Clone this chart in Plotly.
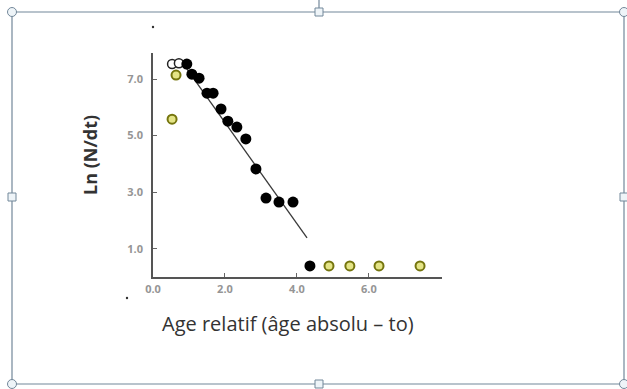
import plotly.graph_objects as go

# --- data -------------------------------------------------------------
# aged fish used for the catch-curve regression (filled)
fit_age = [0.94, 1.08, 1.28, 1.50, 1.67, 1.89, 2.08, 2.33, 2.58, 2.86, 3.14, 3.50, 3.89, 4.36]
fit_ln = [7.53, 7.17, 7.03, 6.50, 6.50, 5.94, 5.51, 5.30, 4.88, 3.82, 2.79, 2.65, 2.65, 0.39]

# not fully recruited ages (open)
open_age = [0.53, 0.72]
open_ln = [7.53, 7.56]

# excluded ages (yellow)
excl_age = [0.64, 0.53, 4.89, 5.47, 6.28, 7.42]
excl_ln = [7.14, 5.58, 0.39, 0.39, 0.39, 0.39]

# regression line end points
line_age = [0.92, 4.28]
line_ln = [7.39, 1.38]

x_ticks = [0, 2, 4, 6]
x_tick_text = ["0.0", "2.0", "4.0", "6.0"]
y_ticks = [1, 3, 5, 7]
y_tick_text = ["1.0", "3.0", "5.0", "7.0"]

# --- layout geometry (pixels) -----------------------------------------
W, H = 627, 389
L, R, T, B = 153, 442, 53, 277


def px(x):
    return (x - L) / (R - L)


def py(y):
    return (B - y) / (B - T)


fig = go.Figure()

fig.add_trace(go.Scatter(
    x=line_age, y=line_ln, mode="lines",
    line=dict(color="#3a3a3a", width=1.3), hoverinfo="skip", showlegend=False))

fig.add_trace(go.Scatter(
    x=excl_age, y=excl_ln, mode="markers",
    marker=dict(symbol="circle", size=9, color="#e4e486",
                line=dict(color="#75750e", width=2)),
    showlegend=False))

fig.add_trace(go.Scatter(
    x=open_age, y=open_ln, mode="markers",
    marker=dict(symbol="circle", size=9, color="white",
                line=dict(color="#222", width=1.5)),
    showlegend=False))

fig.add_trace(go.Scatter(
    x=fit_age, y=fit_ln, mode="markers",
    marker=dict(symbol="circle", size=11, color="black",
                line=dict(color="black", width=0)),
    showlegend=False))

tick_font = dict(family="Open Sans", size=11, color="#959595", weight="bold")

fig.update_xaxes(
    range=[0, 8.03], tickvals=x_ticks, ticktext=x_tick_text,
    showgrid=False, zeroline=False, showline=True, linecolor="#555",
    linewidth=1.5, ticks="inside", ticklen=4, tickcolor="#666",
    tickfont=tick_font, ticklabelstandoff=1)
fig.update_yaxes(
    range=[0, 7.92], tickvals=y_ticks, ticktext=y_tick_text,
    showgrid=False, zeroline=False, showline=True, linecolor="#555",
    linewidth=1.5, ticks="inside", ticklen=4, tickcolor="#666",
    tickfont=tick_font, ticklabelstandoff=6)

shapes = []
frame_col = "#73889a"
# selection frame
shapes.append(dict(type="rect", xref="paper", yref="paper",
                   x0=px(12), x1=px(624), y0=py(12), y1=py(384),
                   line=dict(color=frame_col, width=1.2), layer="below"))
shapes.append(dict(type="line", xref="paper", yref="paper",
                   x0=px(319), x1=px(319), y0=py(0), y1=py(8),
                   line=dict(color=frame_col, width=1.2)))
for cx, cy in [(12, 12), (624, 12), (12, 384), (624, 384)]:
    shapes.append(dict(type="circle", xref="paper", yref="paper",
                       x0=px(cx - 4.5), x1=px(cx + 4.5), y0=py(cy - 4.5), y1=py(cy + 4.5),
                       fillcolor="#eef4f8", line=dict(color=frame_col, width=1)))
for cx, cy in [(319, 12), (319, 384), (12, 197), (624, 197)]:
    shapes.append(dict(type="rect", xref="paper", yref="paper",
                       x0=px(cx - 4), x1=px(cx + 4), y0=py(cy - 4), y1=py(cy + 4),
                       fillcolor="#eef4f8", line=dict(color=frame_col, width=1)))
# small stray specks
for cx, cy in [(153, 27), (127, 298)]:
    shapes.append(dict(type="circle", xref="paper", yref="paper",
                       x0=px(cx - 1.2), x1=px(cx + 1.2), y0=py(cy - 1.2), y1=py(cy + 1.2),
                       fillcolor="#333", line=dict(width=0)))

annotations = [
    dict(text="Age relatif (âge absolu – to)", xref="paper", yref="paper",
         x=px(288), y=py(323), xanchor="center", yanchor="middle", showarrow=False,
         font=dict(family="Open Sans", size=20, color="#333")),
    dict(text="<b>Ln (N/dt)</b>", xref="paper", yref="paper",
         x=px(90), y=py(155), xanchor="center", yanchor="middle",
         showarrow=False, textangle=-90,
         font=dict(family="Open Sans", size=18, color="#333")),
]

fig.update_layout(
    width=W, height=H, autosize=False,
    margin=dict(l=L, r=W - R, t=T, b=H - B, pad=0),
    paper_bgcolor="white", plot_bgcolor="white",
    shapes=shapes, annotations=annotations, showlegend=False)

fig.write_html("out.html")
